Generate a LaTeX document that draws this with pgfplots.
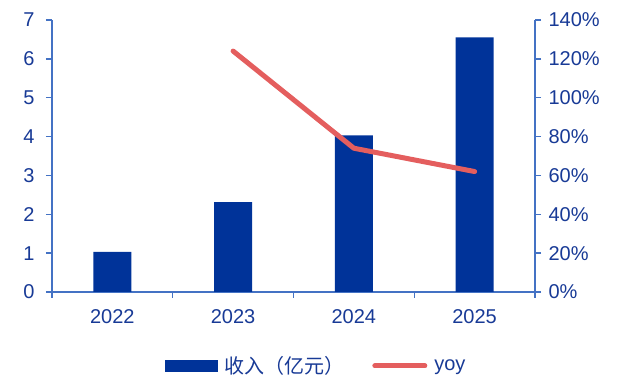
\documentclass[border=0pt]{standalone}
\usepackage{fontspec}
\setmainfont{Liberation Sans}
\newfontfamily\cjk{Noto Sans CJK SC}
\usepackage{pgfplots}
\pgfplotsset{compat=1.18}
\definecolor{barblue}{RGB}{0,51,153}
\definecolor{linered}{RGB}{228,94,94}
\definecolor{axisblue}{RGB}{68,114,196}
\definecolor{textblue}{RGB}{24,58,150}
\begin{document}
\begin{tikzpicture}
\pgfplotsset{
  base/.style={
    scale only axis, width=483pt, height=272pt,
    xmin=-0.5, xmax=3.5,
    /pgf/number format/assume math mode=true,
    tick label style={font=\fontsize{20}{24}\selectfont, text=textblue},
    axis line style={draw=axisblue, line width=1.3pt},
    every tick/.style={draw=axisblue, line width=1.3pt},
    tick align=outside,
    major tick length=6pt, minor tick length=6pt,
  }
}
\begin{axis}[base,
  axis y line*=left, axis x line*=bottom,
  ymin=0, ymax=7, ytick={0,1,...,7},
  xtick={0,1,2,3}, xticklabels={2022,2023,2024,2025},
  major x tick style={draw=none},
  minor xtick={-0.5,0.5,1.5,2.5,3.5},
  xticklabel style={yshift=-8pt},
  yticklabel style={xshift=-8pt},
  ybar, bar width=38pt,
]
\addplot[fill=barblue, draw=none] coordinates {(0,1.03) (1,2.31) (2,4.03) (3,6.55)};
\end{axis}
\begin{axis}[base,
  axis y line*=right, axis x line=none,
  ymin=0, ymax=140, ytick={0,20,...,140},
  yticklabel={\pgfmathprintnumber{\tick}\%},
  yticklabel style={xshift=4pt},
  legend columns=2,
  legend style={draw=none, at={(0.547,-0.272)}, anchor=center,
    font=\fontsize{20}{24}\selectfont, text=textblue,
    /tikz/every even column/.append style={column sep=26pt}},
  legend cell align=left,
]
\addlegendimage{legend image code/.code={\fill[barblue] (0pt,-5.5pt) rectangle (52pt,5.5pt); \path (57pt,0pt);}}
\addlegendentry{\cjk 收入（亿元）}
\addplot[linered, line width=5pt, line cap=round, line join=round,
  legend image code/.code={\draw[linered, line width=5pt, line cap=round] (0pt,0pt) -- (50pt,0pt); \path (55pt,0pt);}]
  coordinates {(1,124) (2,74) (3,62)};
\addlegendentry{yoy}
\end{axis}
\pgfresetboundingbox
\path[use as bounding box] (-52pt,-87pt) rectangle (567pt,292pt);
\end{tikzpicture}
\end{document}
